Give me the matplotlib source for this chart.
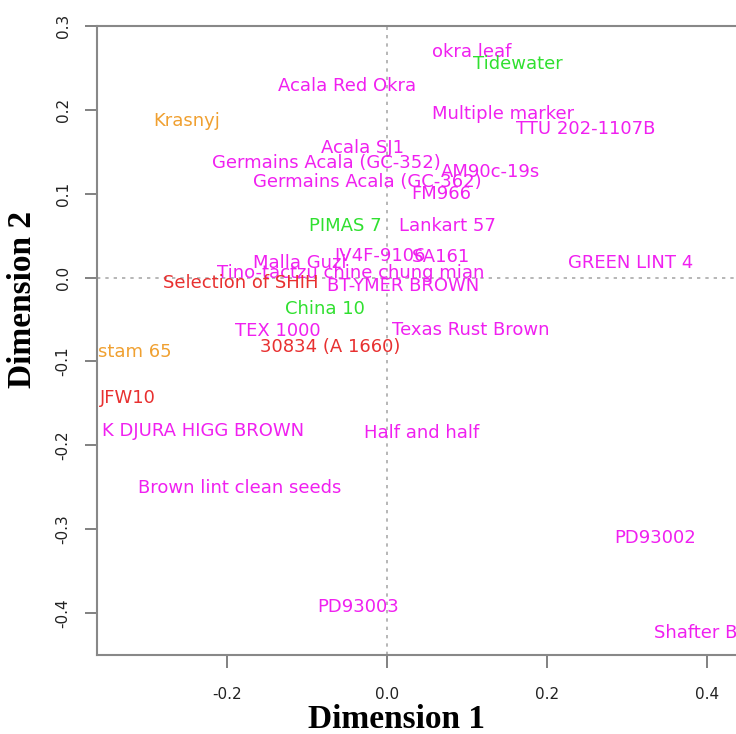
import matplotlib.pyplot as plt

plt.rcParams['axes.unicode_minus'] = False

# variety names and their position on the first two dimensions
labels = ["okra leaf", "Tidewater", "Acala Red Okra", "Krasnyj", "Multiple marker",
          "TTU 202-1107B", "Acala SJ1", "Germains Acala (GC-352)", "AM90c-19s",
          "Germains Acala (GC-362)", "FM966", "PIMAS 7", "Lankart 57", "IV4F-9106",
          "SA161", "Malla Guzi", "GREEN LINT 4", "Tino-tactzu chine chung mian",
          "Selection of SHIH", "BT-YMER BROWN", "China 10", "TEX 1000",
          "Texas Rust Brown", "30834 (A 1660)", "stam 65", "JFW10",
          "K DJURA HIGG BROWN", "Half and half", "Brown lint clean seeds",
          "PD93002", "PD93003", "Shafter Brown"]
dim1 = [0.106, 0.164, -0.050, -0.250, 0.145, 0.248, -0.031, -0.076, 0.129,
        -0.024, 0.068, -0.052, 0.076, -0.009, 0.068, -0.109, 0.304, -0.045,
        -0.183, 0.020, -0.078, -0.136, 0.105, -0.071, -0.315, -0.324,
        -0.230, 0.043, -0.184, 0.335, -0.036, 0.413]
dim2 = [0.269, 0.255, 0.229, 0.187, 0.195, 0.177, 0.155, 0.137, 0.126,
        0.114, 0.100, 0.062, 0.062, 0.026, 0.025, 0.017, 0.017, 0.005,
        -0.007, -0.010, -0.037, -0.064, -0.062, -0.083, -0.089, -0.143,
        -0.183, -0.185, -0.251, -0.310, -0.393, -0.424]
group = ["m", "g", "m", "o", "m", "m", "m", "m", "m", "m", "m", "g", "m", "m",
         "m", "m", "m", "m", "r", "m", "g", "m", "m", "r", "o", "r",
         "m", "m", "m", "m", "m", "m"]

colors = {"m": "#f020f0", "g": "#30e030", "o": "#f0a030", "r": "#e83030"}

fig = plt.figure(figsize=(7.36, 7.34), dpi=100)
ax = fig.add_axes([0.1318, 0.1076, 0.894, 0.857])

for name, x, y, g in zip(labels, dim1, dim2, group):
    ax.text(x, y, name, color=colors[g], fontsize=13, ha='center', va='center',
            family='DejaVu Sans', clip_on=True)

ax.axhline(0, color='#aaaaaa', lw=1.2, ls=(0, (2, 3)), zorder=0)
ax.axvline(0, color='#aaaaaa', lw=1.2, ls=(0, (2, 3)), zorder=0)

ax.set_xlim(-0.3625, 0.46)
ax.set_ylim(-0.45, 0.3)
ax.set_xticks([-0.2, 0.0, 0.2, 0.4])
ax.set_yticks([-0.4, -0.3, -0.2, -0.1, 0.0, 0.1, 0.2, 0.3])

for s in ['left', 'bottom', 'top']:
    ax.spines[s].set_color('#888888')
    ax.spines[s].set_linewidth(1.5)
ax.spines['right'].set_visible(False)

ax.tick_params(axis='both', length=9, width=1.3, color='#777777',
               labelsize=11, labelcolor='#222222')
ax.tick_params(axis='x', pad=14)
ax.tick_params(axis='y', pad=10)
for t in ax.get_yticklabels():
    t.set_rotation(90)
    t.set_va('center')

ax.set_xlabel('Dimension 1', family='Liberation Serif', fontweight='bold',
              fontsize=24)
ax.set_ylabel('Dimension 2', family='Liberation Serif', fontweight='bold',
              fontsize=24)
ax.xaxis.set_label_coords(0.455, -0.078)
ax.yaxis.set_label_coords(-0.089, 0.565)

fig.savefig('out.png', dpi=100)
